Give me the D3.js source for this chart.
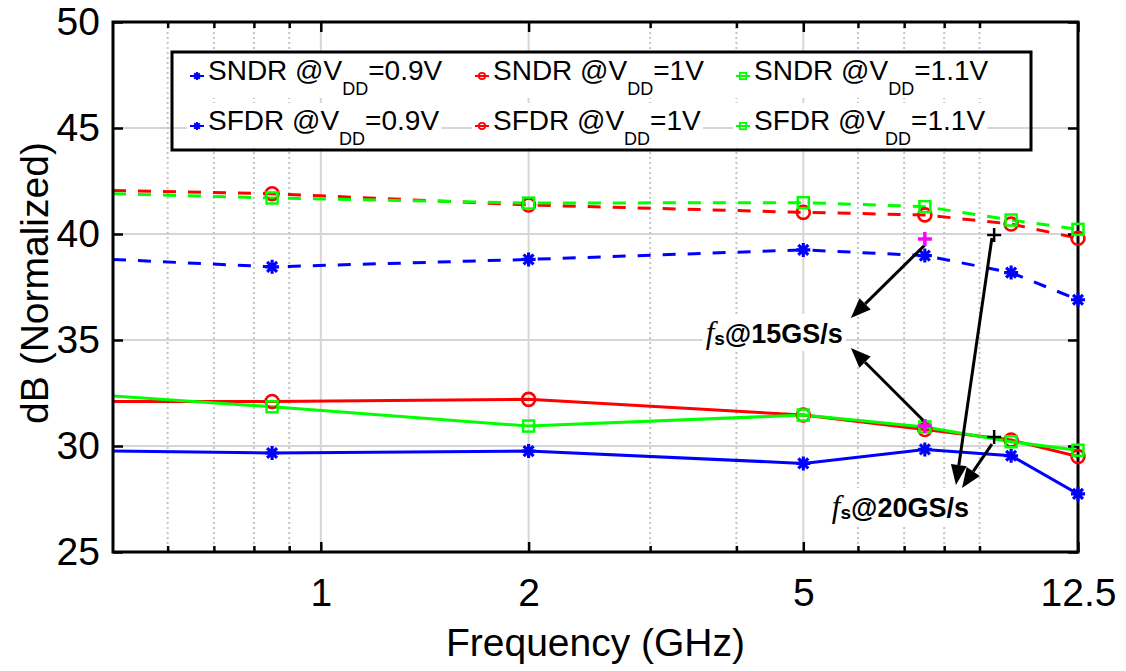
<!DOCTYPE html>
<html>
<head>
<meta charset="utf-8">
<script src="https://cdn.jsdelivr.net/npm/d3@7"></script>
<style>
  body { margin: 0; background: #fff; }
  svg { display: block; }
  text { font-family: "Liberation Sans", Arial, Helvetica, sans-serif; fill: #000; }
</style>
</head>
<body>
<svg id="chart" width="1126" height="671"></svg>
<script>
// ---- measured data (frequency in GHz, values in dB, normalized) ----
const freqGHz = [0.5, 0.85, 2, 5, 7.5, 10, 12.5];

const sndr09 = [29.76, 29.67, 29.76, 29.18, 29.84, 29.54, 27.74];
const sndr10 = [32.10, 32.10, 32.20, 31.46, 30.78, 30.28, 29.50];
const sndr11 = [32.36, 31.85, 30.94, 31.46, 30.90, 30.20, 29.80];

const sfdr09 = [38.80, 38.45, 38.80, 39.25, 38.98, 38.18, 36.90];
const sfdr10 = [42.05, 41.90, 41.37, 41.02, 40.90, 40.47, 39.80];
const sfdr11 = [41.90, 41.70, 41.46, 41.48, 41.29, 40.66, 40.22];

const vddLabels = ["0.9V", "1V", "1.1V"];
const metricLabels = ["SNDR", "SFDR"];

const xMajorTicks = [1, 2, 5, 12.5];
const xMinorTicks = [0.6, 0.7, 0.8, 0.9, 3, 4, 6, 7, 8, 9];
const yTicks = [25, 30, 35, 40, 45, 50];

// sampling-rate markers: [freq, dB]
const fs15Points = [[7.5, 39.76], [7.5, 30.94]];
const fs20Points = [[9.45, 39.95], [9.45, 30.42]];

// annotation arrows, data coordinates: [from, to]
const fs15Arrows = [[[7.5, 39.48], [5.86, 36.04]], [[7.5, 31.13], [5.86, 34.62]]];
const fs20Arrows = [[[9.38, 39.81], [8.32, 28.16]], [[9.38, 30.09], [8.49, 28.02]]];
const fs15Label = { at: [3.61, 34.86], rate: "@15GS/s" };
const fs20Label = { at: [5.50, 26.65], rate: "@20GS/s" };

// ---- series definitions ----
const colors = ["#0000ff", "#ff0000", "#00ff00"];
const markers = ["star", "circle", "square"];
const series = [];
[sndr09, sndr10, sndr11].forEach((v, i) => series.push({ metric: 0, vdd: i, values: v, dashed: false }));
[sfdr09, sfdr10, sfdr11].forEach((v, i) => series.push({ metric: 1, vdd: i, values: v, dashed: true }));

// ---- layout ----
const svg = d3.select("#chart");
const plot = { left: 113, right: 1078, top: 22, bottom: 552 };
const x = d3.scaleLog().domain([0.5, 12.5]).range([plot.left, plot.right]);
const y = d3.scaleLinear().domain([25, 50]).range([plot.bottom, plot.top]);

svg.append("defs").append("clipPath").attr("id", "plotClip")
  .append("rect")
  .attr("x", plot.left).attr("y", plot.top)
  .attr("width", plot.right - plot.left).attr("height", plot.bottom - plot.top);

// ---- grid ----
const grid = svg.append("g");
grid.selectAll(".hgrid").data(yTicks.slice(1, -1)).join("line")
  .attr("x1", plot.left).attr("x2", plot.right)
  .attr("y1", d => y(d)).attr("y2", d => y(d))
  .attr("stroke", "#d6d6d6").attr("stroke-width", 2);
grid.selectAll(".vgrid").data(xMajorTicks.slice(0, -1)).join("line")
  .attr("x1", d => x(d)).attr("x2", d => x(d))
  .attr("y1", plot.top).attr("y2", plot.bottom)
  .attr("stroke", "#d6d6d6").attr("stroke-width", 2);
grid.selectAll(".vminor").data(xMinorTicks).join("line")
  .attr("x1", d => x(d)).attr("x2", d => x(d))
  .attr("y1", plot.top).attr("y2", plot.bottom)
  .attr("stroke", "#c4c4c4").attr("stroke-width", 2)
  .attr("stroke-dasharray", "2,3");

// ---- marker shapes ----
function drawMarker(g, type, cx, cy, color, size) {
  if (type === "star") {
    const r = size;
    const d = [];
    for (let k = 0; k < 4; k++) {
      const a = k * Math.PI / 4;
      d.push(`M${cx - r * Math.cos(a)},${cy - r * Math.sin(a)}L${cx + r * Math.cos(a)},${cy + r * Math.sin(a)}`);
    }
    g.append("path").attr("d", d.join("")).attr("stroke", color)
      .attr("stroke-width", Math.max(2, size * 0.45)).attr("fill", "none");
  } else if (type === "circle") {
    g.append("circle").attr("cx", cx).attr("cy", cy).attr("r", size)
      .attr("fill", "none").attr("stroke", color).attr("stroke-width", Math.max(1.8, size * 0.4));
  } else {
    g.append("rect").attr("x", cx - size).attr("y", cy - size)
      .attr("width", 2 * size).attr("height", 2 * size)
      .attr("fill", "none").attr("stroke", color).attr("stroke-width", Math.max(1.8, size * 0.45));
  }
}

// ---- curves (lines clipped to the axes) ----
const curves = svg.append("g").attr("clip-path", "url(#plotClip)");
const line = d3.line().x(d => x(d[0])).y(d => y(d[1]));
series.forEach(s => {
  const pts = freqGHz.map((f, i) => [f, s.values[i]]);
  curves.append("path").datum(pts)
    .attr("d", line)
    .attr("fill", "none")
    .attr("stroke", colors[s.vdd])
    .attr("stroke-width", 3)
    .attr("stroke-dasharray", s.dashed ? "13,12" : null);
});

// ---- annotations ----
const ann = svg.append("g");
function annotationLabel(lbl) {
  const t = ann.append("text")
    .attr("x", x(lbl.at[0])).attr("y", y(lbl.at[1]));
  t.append("tspan").text("f")
    .style("font-family", "'Liberation Serif', 'Times New Roman', serif")
    .style("font-style", "italic").style("font-size", "31px");
  t.append("tspan").text("s").attr("dy", 2)
    .style("font-weight", "bold").style("font-size", "19px");
  t.append("tspan").text(lbl.rate).attr("dy", -2)
    .style("font-weight", "bold").style("font-size", "27px");
  const bb = t.node().getBBox();
  ann.insert("rect", "text")
    .attr("x", bb.x - 3).attr("y", bb.y - 1)
    .attr("width", bb.width + 6).attr("height", bb.height + 2)
    .attr("fill", "#fff");
}
annotationLabel(fs15Label);
annotationLabel(fs20Label);

// ---- axes ----
const axes = svg.append("g");
const tickFont = "39px";
axes.append("g").attr("transform", `translate(0,${plot.bottom})`)
  .call(d3.axisBottom(x).tickValues(xMajorTicks).tickFormat(d3.format("")).tickSize(-10).tickPadding(26));
axes.append("g").attr("transform", `translate(0,${plot.bottom})`)
  .call(d3.axisBottom(x).tickValues(xMinorTicks).tickFormat("").tickSize(-6));
axes.append("g").attr("transform", `translate(0,${plot.top})`)
  .call(d3.axisTop(x).tickValues(xMajorTicks).tickFormat("").tickSize(-10));
axes.append("g").attr("transform", `translate(0,${plot.top})`)
  .call(d3.axisTop(x).tickValues(xMinorTicks).tickFormat("").tickSize(-6));
axes.append("g").attr("transform", `translate(${plot.left},0)`)
  .call(d3.axisLeft(y).tickValues(yTicks).tickSize(-10).tickPadding(13));
axes.append("g").attr("transform", `translate(${plot.right},0)`)
  .call(d3.axisRight(y).tickValues(yTicks).tickFormat("").tickSize(-10));

axes.selectAll(".domain").remove();
axes.selectAll(".tick line").attr("stroke", "#000").attr("stroke-width", 2.5);
axes.selectAll(".tick text")
  .style("font-family", "'Liberation Sans', Arial, sans-serif")
  .style("font-size", tickFont).attr("fill", "#222");

axes.append("rect")
  .attr("x", plot.left).attr("y", plot.top)
  .attr("width", plot.right - plot.left).attr("height", plot.bottom - plot.top)
  .attr("fill", "none").attr("stroke", "#000").attr("stroke-width", 3);

svg.append("text")
  .attr("x", (plot.left + plot.right) / 2).attr("y", 656)
  .attr("text-anchor", "middle")
  .style("font-size", "39px").attr("fill", "#111")
  .text("Frequency (GHz)");

svg.append("text")
  .attr("transform", `translate(48,${(plot.top + plot.bottom) / 2 - 4}) rotate(-90)`)
  .attr("text-anchor", "middle")
  .style("font-size", "39px").attr("fill", "#111")
  .text("dB (Normalized)");

// ---- data markers, drawn whole on top of the frame ----
const marks = svg.append("g");
series.forEach(s => {
  const g = marks.append("g");
  freqGHz.forEach((f, i) => {
    if (f <= x.domain()[0]) return; // curve enters from the axis edge
    const size = s.vdd === 0 ? 7 : (s.vdd === 1 ? 6.5 : 5.5);
    drawMarker(g, markers[s.vdd], x(f), y(s.values[i]), colors[s.vdd], size);
  });
});

// ---- annotation arrows and sampling-rate crosses ----
const ann2 = svg.append("g");
function arrow(from, to) {
  const x1 = x(from[0]), y1 = y(from[1]), x2 = x(to[0]), y2 = y(to[1]);
  const ang = Math.atan2(y2 - y1, x2 - x1);
  const len = 20, half = 8;
  const bx = x2 - len * Math.cos(ang), by = y2 - len * Math.sin(ang);
  ann2.append("line").attr("x1", x1).attr("y1", y1).attr("x2", bx).attr("y2", by)
    .attr("stroke", "#000").attr("stroke-width", 3);
  const p = [[x2, y2],
    [bx + half * Math.sin(ang), by - half * Math.cos(ang)],
    [bx - half * Math.sin(ang), by + half * Math.cos(ang)]];
  ann2.append("polygon").attr("points", p.map(q => q.join(",")).join(" ")).attr("fill", "#000");
}
fs15Arrows.forEach(a => arrow(a[0], a[1]));
fs20Arrows.forEach(a => arrow(a[0], a[1]));

function plus(pt, color, w) {
  const cx = x(pt[0]), cy = y(pt[1]), r = 7;
  ann2.append("path").attr("d", `M${cx - r},${cy}H${cx + r}M${cx},${cy - r}V${cy + r}`)
    .attr("stroke", color).attr("stroke-width", w).attr("fill", "none");
}
fs15Points.forEach(p => plus(p, "#ff00ff", 3.5));
fs20Points.forEach(p => plus(p, "#000", 2.5));

// ---- legend ----
const legend = svg.append("g");
const legendCols = [197, 482, 743];
const legendRows = [80, 130];
series.forEach(s => {
  const mx = legendCols[s.vdd], base = legendRows[s.metric], my = base - 4;
  const g = legend.append("g");
  const t = g.append("text").attr("x", mx + 11).attr("y", base).style("font-size", "28px");
  t.append("tspan").text(`${metricLabels[s.metric]} @V`);
  t.append("tspan").text("DD").attr("dy", 15).style("font-size", "18px");
  t.append("tspan").text(`=${vddLabels[s.vdd]}`).attr("dy", -15);
  const bb = t.node().getBBox();
  g.insert("rect", "text")
    .attr("x", mx - 10).attr("y", base - 27)
    .attr("width", bb.x + bb.width - (mx - 10) + 2).attr("height", 45)
    .attr("fill", "#fff");
  g.append("line").attr("x1", mx - 7).attr("x2", mx + 7).attr("y1", my).attr("y2", my)
    .attr("stroke", colors[s.vdd]).attr("stroke-width", 2);
  drawMarker(g, markers[s.vdd], mx, my, colors[s.vdd], s.vdd === 0 ? 4 : 3.2);
});
legend.append("rect")
  .attr("x", 172).attr("y", 52).attr("width", 859).attr("height", 98)
  .attr("fill", "none").attr("stroke", "#000").attr("stroke-width", 3);
</script>
</body>
</html>
